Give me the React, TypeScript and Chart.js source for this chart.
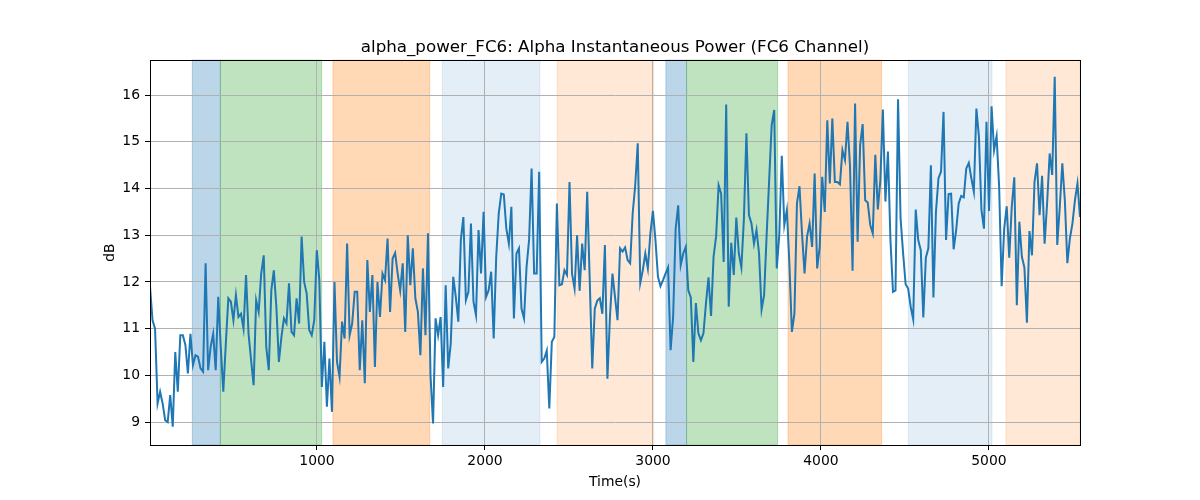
import { useEffect, useRef } from "react";
import { Chart, registerables } from "chart.js";

Chart.register(...registerables);

// sampling: first and last sample time (s), samples are evenly spaced between them
const startTime = 6;
const endTime = 5542;

// alpha power of the FC6 channel, dB, one value per sample
const alphaPower: number[] = [
  11.9, 11.18, 11.0, 9.4, 9.65, 9.4, 9.04, 9.0, 9.58, 8.9,
  10.5, 9.65, 10.86, 10.86, 10.65, 10.04, 10.89, 10.22, 10.43, 10.4,
  10.15, 10.08, 12.4, 10.11, 10.61, 10.89, 10.11, 11.68, 10.61, 9.65,
  10.68, 11.65, 11.58, 11.18, 11.72, 11.25, 11.32, 11.0, 12.15, 10.89,
  10.33, 9.79, 11.61, 11.36, 12.18, 12.57, 10.61, 10.11, 11.82, 12.25,
  11.47, 10.29, 10.82, 11.22, 11.11, 11.97, 10.93, 10.86, 11.65, 11.11,
  12.97, 12.0, 11.75, 10.97,
  10.86, 11.18, 12.68, 12.04, 9.75, 10.72, 9.33, 10.36, 9.22, 12.0,
  10.29, 9.97, 11.15, 10.79, 12.82, 10.86, 11.11, 11.79, 11.79, 10.11,
  11.18, 9.83, 12.47, 11.36, 12.15, 10.18, 12.0, 11.25, 12.18, 12.04,
  12.93, 11.36, 12.5, 12.62, 12.18, 11.82, 12.4, 10.93, 13.0, 11.93,
  12.72, 11.65, 11.36, 10.43, 12.29, 10.86, 13.04, 10.0, 8.97, 11.22,
  10.86, 11.25, 9.75, 11.93, 10.15, 10.68, 12.11, 11.68, 11.15, 12.9,
  13.39,
  11.61, 11.79, 13.25, 11.58, 11.29, 13.11, 12.18, 13.5, 11.68, 11.82,
  12.22, 10.79, 12.54, 13.47, 13.89, 13.87, 13.14, 12.82, 13.61, 11.22,
  12.61, 12.72, 11.43, 11.22, 12.32, 12.9, 14.43, 12.18, 12.18, 14.36,
  10.29, 10.36, 10.53, 9.29, 10.72, 10.82, 13.68, 11.93, 11.95, 12.25,
  12.15, 14.14, 12.18, 11.86, 13.0, 11.81, 12.82, 12.25, 13.93, 12.04,
  10.15, 11.43, 11.6, 11.65, 11.32, 12.79, 9.93, 11.25, 12.18, 11.68,
  11.18,
  12.72, 12.65, 12.74, 12.47, 12.4, 13.47, 14.07, 14.97, 11.98, 12.25,
  12.61, 12.29, 13.04, 13.52, 12.9, 12.11, 11.91, 12.04, 12.18, 12.31,
  10.54, 11.25, 13.14, 13.64, 12.36, 12.61, 12.75, 11.82, 11.67, 10.29,
  11.55, 10.9, 10.75, 10.9, 11.54, 12.1, 11.27, 12.54, 12.97, 14.07,
  13.89, 12.43, 15.8, 11.47, 12.84, 12.15, 13.38, 12.61, 12.31, 13.34,
  15.18, 13.43, 13.25, 12.82, 13.11, 12.61, 11.41, 11.72, 13.0, 14.18,
  15.36, 15.68,
  12.29, 13.0, 14.7, 13.22, 13.54, 12.4, 10.93, 11.32, 13.68, 14.05,
  13.04, 12.18, 12.97, 13.25, 12.75, 14.32, 12.29, 12.75, 14.25, 13.5,
  15.46, 14.11, 15.5, 14.14, 14.14, 14.09, 14.82, 14.61, 15.43, 14.47,
  12.24, 15.82, 12.86, 14.93, 15.38, 13.75, 13.7, 13.22, 13.04, 14.72,
  13.55, 14.18, 15.69, 13.72, 14.79, 12.89, 11.79, 11.82, 15.91, 13.36,
  12.62, 11.95, 11.86, 11.47, 11.2, 13.55, 12.89, 12.68, 11.24, 12.52,
  12.72,
  14.5, 11.67, 13.5, 14.22, 14.36, 15.64, 12.9, 13.88, 13.89, 12.7,
  13.11, 13.68, 13.84, 13.81, 14.43, 14.55, 14.22, 13.93, 15.71, 15.11,
  13.54, 13.14, 15.43, 13.52, 15.76, 14.82, 15.12, 14.04, 11.91, 13.14,
  13.62, 12.52, 13.61, 14.24, 11.5, 13.29, 12.54, 12.31, 11.13, 13.09,
  12.57, 14.14, 14.54, 13.43, 14.27, 12.82, 13.7, 14.75, 14.29, 16.39,
  12.79, 13.61, 14.54, 13.75, 12.4, 12.93, 13.25, 13.75, 14.11, 13.39,
];

// shaded task segments: start, end (s) and fill colour
const segmentStarts = [258, 425, 1095, 1746, 2429, 3077, 3200, 3804, 4520, 5101];
const segmentEnds = [425, 1028, 1671, 2327, 3004, 3200, 3742, 4361, 5018, 5542];
const segmentColors = [
  "rgba(31,119,180,0.3)",
  "rgba(44,160,44,0.3)",
  "rgba(255,127,14,0.3)",
  "rgba(31,119,180,0.12)",
  "rgba(255,127,14,0.17)",
  "rgba(31,119,180,0.3)",
  "rgba(44,160,44,0.3)",
  "rgba(255,127,14,0.3)",
  "rgba(31,119,180,0.12)",
  "rgba(255,127,14,0.17)",
];

const xTicks = [1000, 2000, 3000, 4000, 5000];
const yTicks = [9, 10, 11, 12, 13, 14, 15, 16];

const FONT = "'DejaVu Sans', sans-serif";

const App = () => {
  const canvasRef = useRef<HTMLCanvasElement | null>(null);

  useEffect(() => {
    if (!canvasRef.current) return;
    const step = (endTime - startTime) / (alphaPower.length - 1);
    const points = alphaPower.map((v, i) => ({ x: startTime + i * step, y: v }));

    // draws the coloured spans under the grid and the box around the axes
    const spansPlugin = {
      id: "spans",
      beforeDraw(chart: any) {
        const { ctx, chartArea, scales } = chart;
        ctx.save();
        for (let i = 0; i < segmentStarts.length; i++) {
          const x0 = scales.x.getPixelForValue(segmentStarts[i]);
          const x1 = Math.min(scales.x.getPixelForValue(segmentEnds[i]), chartArea.right);
          ctx.fillStyle = segmentColors[i];
          ctx.strokeStyle = segmentColors[i];
          ctx.lineWidth = 1;
          ctx.fillRect(x0, chartArea.top, x1 - x0, chartArea.bottom - chartArea.top);
          ctx.strokeRect(x0, chartArea.top, x1 - x0, chartArea.bottom - chartArea.top);
        }
        ctx.restore();
      },
      afterDraw(chart: any) {
        const { ctx, chartArea } = chart;
        ctx.save();
        ctx.strokeStyle = "#000";
        ctx.lineWidth = 1;
        ctx.strokeRect(
          Math.round(chartArea.left) + 0.5,
          Math.round(chartArea.top) + 0.5,
          Math.round(chartArea.right - chartArea.left),
          Math.round(chartArea.bottom - chartArea.top)
        );
        ctx.restore();
      },
    };

    const chart = new Chart(canvasRef.current, {
      type: "line",
      data: {
        datasets: [
          {
            data: points,
            borderColor: "#1f77b4",
            borderWidth: 2,
            pointRadius: 0,
            tension: 0,
          },
        ],
      },
      options: {
        animation: false,
        responsive: false,
        layout: { padding: { left: 98, right: 120, top: 0, bottom: 5 } },
        plugins: {
          legend: { display: false },
          tooltip: { enabled: false },
          title: {
            display: true,
            fullSize: false,
            text: "alpha_power_FC6: Alpha Instantaneous Power (FC6 Channel)",
            color: "#000",
            font: { family: FONT, size: 16.7, weight: "normal" },
            padding: { top: 38, bottom: 2 },
          },
        },
        scales: {
          x: {
            type: "linear",
            min: startTime,
            max: endTime,
            afterBuildTicks: (s: any) => {
              s.ticks = xTicks.map((v) => ({ value: v }));
            },
            afterFit: (s: any) => {
              s.height = 50;
            },
            ticks: {
              color: "#000",
              font: { family: FONT, size: 13.9 },
              padding: 3,
              maxRotation: 0,
              callback: (v: any) => String(v),
            },
            grid: { color: "#b0b0b0", tickColor: "#000", tickLength: 5, lineWidth: 1 },
            border: { display: true, color: "#000" },
            title: {
              display: true,
              text: "Time(s)",
              color: "#000",
              font: { family: FONT, size: 13.9 },
            },
          },
          y: {
            min: 8.51,
            max: 16.75,
            afterBuildTicks: (s: any) => {
              s.ticks = yTicks.map((v) => ({ value: v }));
            },
            afterFit: (s: any) => {
              s.width = 52;
            },
            ticks: {
              color: "#000",
              font: { family: FONT, size: 13.9 },
              padding: 5,
              callback: (v: any) => String(v),
            },
            grid: { color: "#b0b0b0", tickColor: "#000", tickLength: 5, lineWidth: 1 },
            border: { display: true, color: "#000" },
            title: {
              display: true,
              text: "dB",
              color: "#000",
              font: { family: FONT, size: 13.9 },
            },
          },
        },
      },
      plugins: [spansPlugin],
    });

    return () => {
      chart.destroy();
    };
  }, []);

  return (
    <div style={{ position: "absolute", left: 0, top: 0, width: 1200, height: 500, background: "#fff" }}>
      <canvas ref={canvasRef} width={1200} height={500} style={{ display: "block" }} />
    </div>
  );
};

export default App;
